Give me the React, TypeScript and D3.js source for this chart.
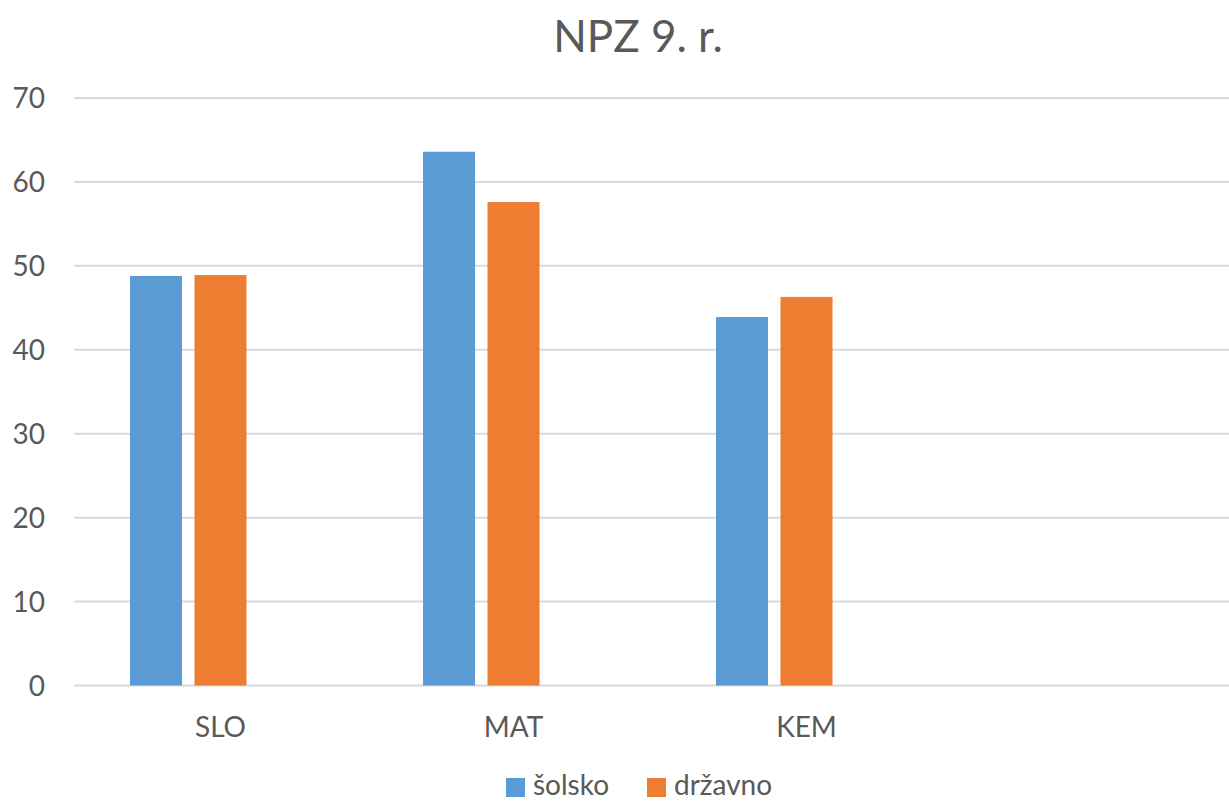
import { useMemo } from "react";
import * as d3 from "d3";

const categories = ["SLO", "MAT", "KEM", ""];
const seriesNames = ["šolsko", "državno", ""];
const solsko = [48.8, 63.6, 43.9];
const drzavno = [48.9, 57.6, 46.3];
const yTicks = [0, 10, 20, 30, 40, 50, 60, 70];
const title = "NPZ 9. r.";

const colors = ["#5B9BD5", "#ED7D31", "#A5A5A5"];
const FONT = "Lato, 'Open Sans', sans-serif";
const TEXT = "#595959";

export default function App() {
  const W = 1229;
  const H = 802;
  const plot = { left: 74, right: 1246, top: 98, bottom: 685.5 };

  const x0 = useMemo(
    () => d3.scaleBand<string>().domain(categories.map((c, i) => c || `_${i}`)).range([plot.left, plot.right]),
    []
  );
  const y = useMemo(() => d3.scaleLinear().domain([0, 70]).range([plot.bottom, plot.top]), []);

  // three slots per category, the third series is empty
  const groupHalf = 90.5;
  const x1 = d3
    .scaleBand<string>()
    .domain(seriesNames.map((s, i) => s || `_${i}`))
    .range([x0.bandwidth() / 2 - groupHalf, x0.bandwidth() / 2 + groupHalf])
    .paddingInner(0.194)
    .paddingOuter(0);

  const values = [solsko, drzavno];

  const legendItems = [
    { name: seriesNames[0], color: colors[0], x: 506 },
    { name: seriesNames[1], color: colors[1], x: 647 },
  ];

  return (
    <div style={{ position: "absolute", left: 0, top: 0 }}>
      <svg width={W} height={H} style={{ display: "block", background: "#fff" }}>
        <text x={638} y={52} textAnchor="middle" fontFamily={FONT} fontSize={44} fill={TEXT}>
          {title}
        </text>

        {/* gridlines */}
        {yTicks.map((t) => (
          <line key={t} x1={plot.left} x2={W} y1={y(t)} y2={y(t)} stroke="#D9D9D9" strokeWidth={2} />
        ))}
        {yTicks.map((t) => (
          <text
            key={`l${t}`}
            x={45}
            y={y(t)}
            dy="0.36em"
            textAnchor="end"
            fontFamily={FONT}
            fontSize={28}
            fill={TEXT}
          >
            {t}
          </text>
        ))}

        {/* bars */}
        {values.map((vals, si) =>
          vals.map((v, ci) => {
            const cx = x0(categories[ci] || `_${ci}`) ?? 0;
            const bx = cx + (x1(seriesNames[si]) ?? 0);
            return (
              <rect
                key={`${si}-${ci}`}
                x={bx}
                y={y(v)}
                width={x1.bandwidth()}
                height={y(0) - y(v)}
                fill={colors[si]}
              />
            );
          })
        )}

        {/* category labels */}
        {categories.map((c) =>
          c ? (
            <text
              key={c}
              x={(x0(c) ?? 0) + x0.bandwidth() / 2}
              y={737}
              textAnchor="middle"
              fontFamily={FONT}
              fontSize={28}
              fill={TEXT}
            >
              {c}
            </text>
          ) : null
        )}

        {/* legend */}
        {legendItems.map((it) => (
          <g key={it.name}>
            <rect x={it.x} y={778} width={19} height={19} fill={it.color} />
            <text x={it.x + 27} y={795} fontFamily={FONT} fontSize={28} fill={TEXT}>
              {it.name}
            </text>
          </g>
        ))}
      </svg>
    </div>
  );
}
